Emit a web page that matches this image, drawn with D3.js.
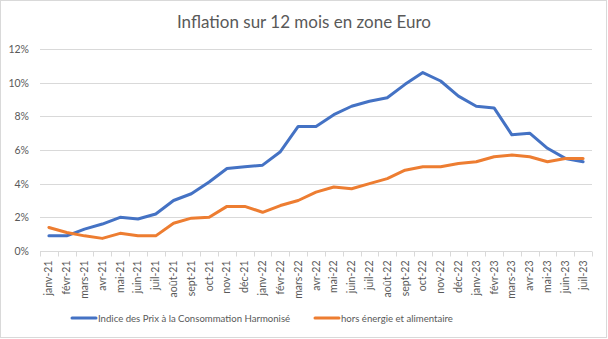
<!DOCTYPE html>
<html>
<head>
<meta charset="utf-8">
<script src="https://cdn.jsdelivr.net/npm/d3@7"></script>
<style>
  html, body { margin: 0; padding: 0; background: #fff; }
  svg { display: block; font-family: Lato, "Open Sans", sans-serif; }
</style>
</head>
<body>
<svg id="chart" width="608" height="339"></svg>
<script>
// Monthly labels (French abbreviations)
const months = ["janv-21","févr-21","mars-21","avr-21","mai-21","juin-21","juil-21","août-21","sept-21","oct-21","nov-21","déc-21",
  "janv-22","févr-22","mars-22","avr-22","mai-22","juin-22","juil-22","août-22","sept-22","oct-22","nov-22","déc-22",
  "janv-23","févr-23","mars-23","avr-23","mai-23","juin-23","juil-23"];

// Headline HICP, year-on-year %
const hicp = [0.9,0.9,1.3,1.6,2.0,1.9,2.2,3.0,3.4,4.1,4.9,5.0,
  5.1,5.9,7.4,7.4,8.1,8.6,8.9,9.1,9.9,10.6,10.1,9.2,
  8.6,8.5,6.9,7.0,6.1,5.5,5.3];

// Core: excluding energy and food, year-on-year %
const core = [1.4,1.1,0.9,0.75,1.05,0.9,0.9,1.65,1.95,2.0,2.65,2.65,
  2.3,2.7,3.0,3.5,3.8,3.7,4.0,4.3,4.8,5.0,5.0,5.2,
  5.3,5.6,5.7,5.6,5.3,5.5,5.5];

const yTicks = [0,2,4,6,8,10,12];
const seriesNames = ["Indice des Prix à la Consommation Harmonisé", "hors énergie et alimentaire"];
const seriesColors = ["#4472C4", "#ED7D31"];

const svg = d3.select("#chart");
const W = 608, H = 339;
const plot = {left: 40, right: 592, top: 49, bottom: 251};

// Outer chart frame
svg.append("rect").attr("x", 0.5).attr("y", 0.5).attr("width", W - 2).attr("height", H - 2)
  .attr("fill", "#fff").attr("stroke", "#d9d9d9");

const x = d3.scaleBand().domain(months).range([plot.left, plot.right]).paddingInner(0).paddingOuter(0);
const y = d3.scaleLinear().domain([0, 12]).range([plot.bottom, plot.top]);

// Horizontal gridlines
svg.append("g").selectAll("line").data(yTicks.filter(d => d > 0)).join("line")
  .attr("x1", plot.left).attr("x2", plot.right)
  .attr("y1", d => Math.round(y(d)) + 0.5).attr("y2", d => Math.round(y(d)) + 0.5)
  .attr("stroke", "#d9d9d9").attr("stroke-width", 1);

// Y axis labels
const yAxis = d3.axisLeft(y).tickValues(yTicks).tickFormat(d => d + "%").tickSize(0).tickPadding(0);
const gy = svg.append("g").attr("transform", `translate(${plot.left - 11},0)`).call(yAxis);
gy.select(".domain").remove();
gy.selectAll("text").attr("fill", "#595959").style("font-size", "10.5px").style("font-family", "Lato, sans-serif");

// X axis: baseline, boundary ticks and rotated month labels
const gx = svg.append("g").attr("transform", `translate(0,${Math.round(plot.bottom) + 0.5})`);
gx.append("line").attr("x1", plot.left).attr("x2", plot.right).attr("stroke", "#d9d9d9");
const bounds = months.map(m => x(m)).concat([plot.right]);
gx.selectAll("line.tk").data(bounds).join("line").attr("class", "tk")
  .attr("x1", d => Math.round(d) + 0.5).attr("x2", d => Math.round(d) + 0.5)
  .attr("y1", 0).attr("y2", 5).attr("stroke", "#d9d9d9");
gx.selectAll("text").data(months).join("text")
  .attr("transform", d => `translate(${x(d) + x.bandwidth() / 2 + 3.5},9) rotate(-90)`)
  .attr("text-anchor", "end")
  .attr("fill", "#595959").style("font-size", "10.5px")
  .text(d => d);

// Series lines
const line = d3.line().x((d, i) => x(months[i]) + x.bandwidth() / 2).y(d => y(d));
[hicp, core].forEach((s, k) => {
  svg.append("path").datum(s).attr("d", line)
    .attr("fill", "none").attr("stroke", seriesColors[k]).attr("stroke-width", 3)
    .attr("stroke-linejoin", "round").attr("stroke-linecap", "round");
});

// Title
svg.append("text").attr("x", 304).attr("y", 28).attr("text-anchor", "middle")
  .attr("fill", "#595959").style("font-size", "17px")
  .text("Inflation sur 12 mois en zone Euro");

// Legend
const legendItems = [{x: 72}, {x: 315}];
legendItems.forEach((it, k) => {
  const g = svg.append("g").attr("transform", `translate(${it.x},318)`);
  g.append("line").attr("x1", 0).attr("x2", 24).attr("y1", 0).attr("y2", 0)
    .attr("stroke", seriesColors[k]).attr("stroke-width", 3).attr("stroke-linecap", "round");
  g.append("text").attr("x", 26).attr("y", 3.5).attr("fill", "#595959").style("font-size", "9.6px")
    .text(seriesNames[k]);
});
</script>
</body>
</html>
